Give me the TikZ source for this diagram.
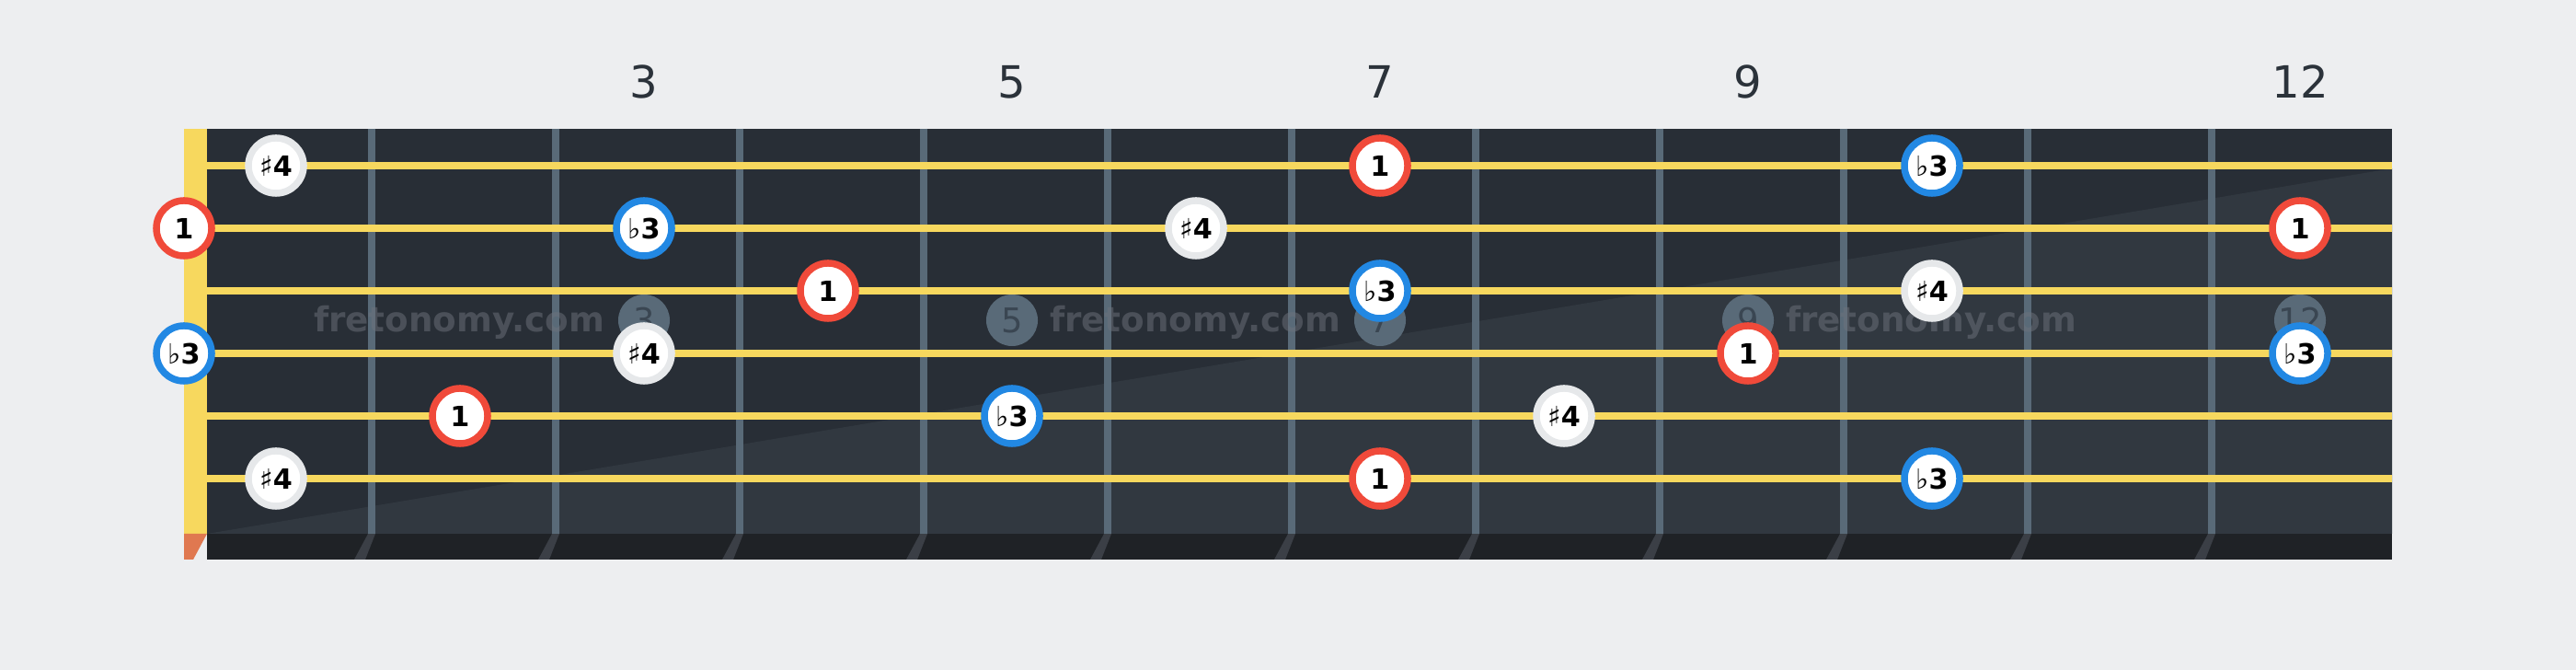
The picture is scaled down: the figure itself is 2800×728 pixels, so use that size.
\documentclass[tikz,border=0pt]{standalone}
\usepackage{fontspec}
\usepackage{tikz}
\usetikzlibrary{shapes.geometric}
\newfontfamily\notefont{DejaVu Sans}

\definecolor{bgcolor}{HTML}{EDEEF0}
\definecolor{boarddark}{HTML}{282E36}
\definecolor{boardlight}{HTML}{313840}
\definecolor{boardedge}{HTML}{1F2226}
\definecolor{shadowgray}{HTML}{3B3F46}
\definecolor{nutyellow}{HTML}{F7D85E}
\definecolor{nutorange}{HTML}{E07850}
\definecolor{fretgray}{HTML}{596A78}
\definecolor{markertext}{HTML}{3A4652}
\definecolor{rootred}{HTML}{F04A3A}
\definecolor{thirdblue}{HTML}{2288E3}
\definecolor{sharpgray}{HTML}{E6E8EA}
\definecolor{labelgray}{HTML}{2B323A}
\definecolor{markgray}{HTML}{6E737C}

\tikzstyle{note} = [circle, minimum size=0.6cm, inner sep=0pt, line width=0.075cm, fill=white, text=black, font={\notefont\fontsize{8.6}{10}\selectfont\bfseries}]
\tikzstyle{rootnote} = [note, draw=rootred]
\tikzstyle{thirdnote} = [note, draw=thirdblue]
\tikzstyle{sharpnote} = [note, draw=sharpgray]
\tikzstyle{fretnum} = [text=labelgray, font={\notefont\fontsize{13.7}{16}\selectfont}]
\tikzstyle{marker} = [circle, minimum size=0.56cm, inner sep=0pt, fill=fretgray, text=markertext, font={\notefont\fontsize{10.5}{12}\selectfont}]
\tikzstyle{watermark} = [text=markgray, text opacity=0.5, font={\notefont\fontsize{10.6}{12}\selectfont\bfseries}]
\tikzstyle{fret} = [fretgray, line width=0.08cm]
\tikzstyle{string} = [nutyellow, line width=0.08cm]
\tikzstyle{shadow} = [fill=shadowgray]

\newcommand{\shp}{{\mdseries ♯}}
\newcommand{\flt}{{\mdseries ♭}}

\begin{document}
\begin{tikzpicture}[x=0.01cm, y=-0.01cm]
    \fill[bgcolor] (0,0) rectangle (2800,728);
    \useasboundingbox (0,0) rectangle (2800,728);

    % board
    \fill[boarddark] (225,140) rectangle (2600,580);
    \fill[boardlight] (225,580) -- (2600,183) -- (2600,580) -- cycle;
    \fill[boardedge] (225,580) rectangle (2600,608);
    \fill[nutyellow] (200,140) rectangle (225,580);
    \fill[nutorange] (200,580) -- (225,580) -- (210,608) -- (200,608) -- cycle;

    % fret shadows
    \fill[shadow] (400,580) -- (408,580) -- (397,608) -- (385,608) -- cycle;
    \fill[shadow] (600,580) -- (608,580) -- (597,608) -- (585,608) -- cycle;
    \fill[shadow] (800,580) -- (808,580) -- (797,608) -- (785,608) -- cycle;
    \fill[shadow] (1000,580) -- (1008,580) -- (997,608) -- (985,608) -- cycle;
    \fill[shadow] (1200,580) -- (1208,580) -- (1197,608) -- (1185,608) -- cycle;
    \fill[shadow] (1400,580) -- (1408,580) -- (1397,608) -- (1385,608) -- cycle;
    \fill[shadow] (1600,580) -- (1608,580) -- (1597,608) -- (1585,608) -- cycle;
    \fill[shadow] (1800,580) -- (1808,580) -- (1797,608) -- (1785,608) -- cycle;
    \fill[shadow] (2000,580) -- (2008,580) -- (1997,608) -- (1985,608) -- cycle;
    \fill[shadow] (2200,580) -- (2208,580) -- (2197,608) -- (2185,608) -- cycle;
    \fill[shadow] (2400,580) -- (2408,580) -- (2397,608) -- (2385,608) -- cycle;

    % frets
    \draw[fret] (404,140) -- (404,580);
    \draw[fret] (604,140) -- (604,580);
    \draw[fret] (804,140) -- (804,580);
    \draw[fret] (1004,140) -- (1004,580);
    \draw[fret] (1204,140) -- (1204,580);
    \draw[fret] (1404,140) -- (1404,580);
    \draw[fret] (1604,140) -- (1604,580);
    \draw[fret] (1804,140) -- (1804,580);
    \draw[fret] (2004,140) -- (2004,580);
    \draw[fret] (2204,140) -- (2204,580);
    \draw[fret] (2404,140) -- (2404,580);

    % inlay markers
    \node (marker3) [marker] at (700,348) {3};
    \node (marker5) [marker] at (1100,348) {5};
    \node (marker7) [marker] at (1500,348) {7};
    \node (marker9) [marker] at (1900,348) {9};
    \node (marker12) [marker] at (2500,348) {12};

    \node (watermark1) [watermark] at (499,350) {fretonomy.com};
    \node (watermark2) [watermark] at (1299,350) {fretonomy.com};
    \node (watermark3) [watermark] at (2099,350) {fretonomy.com};

    % strings
    \draw[string] (225,180) -- (2600,180);
    \draw[string] (225,248) -- (2600,248);
    \draw[string] (225,316) -- (2600,316);
    \draw[string] (225,384) -- (2600,384);
    \draw[string] (225,452) -- (2600,452);
    \draw[string] (225,520) -- (2600,520);

    % fret numbers
    \node (fretnum3) [fretnum] at (700,89) {3};
    \node (fretnum5) [fretnum] at (1100,89) {5};
    \node (fretnum7) [fretnum] at (1500,89) {7};
    \node (fretnum9) [fretnum] at (1900,89) {9};
    \node (fretnum12) [fretnum] at (2500,89) {12};

    % notes
    \node (str1_fret1) [sharpnote] at (300,180) {\shp4};
    \node (str1_fret7) [rootnote] at (1500,180) {1};
    \node (str1_fret10) [thirdnote] at (2100,180) {\flt3};

    \node (str2_open) [rootnote] at (200,248) {1};
    \node (str2_fret3) [thirdnote] at (700,248) {\flt3};
    \node (str2_fret6) [sharpnote] at (1300,248) {\shp4};
    \node (str2_fret12) [rootnote] at (2500,248) {1};

    \node (str3_fret4) [rootnote] at (900,316) {1};
    \node (str3_fret7) [thirdnote] at (1500,316) {\flt3};
    \node (str3_fret10) [sharpnote] at (2100,316) {\shp4};

    \node (str4_open) [thirdnote] at (200,384) {\flt3};
    \node (str4_fret3) [sharpnote] at (700,384) {\shp4};
    \node (str4_fret9) [rootnote] at (1900,384) {1};
    \node (str4_fret12) [thirdnote] at (2500,384) {\flt3};

    \node (str5_fret2) [rootnote] at (500,452) {1};
    \node (str5_fret5) [thirdnote] at (1100,452) {\flt3};
    \node (str5_fret8) [sharpnote] at (1700,452) {\shp4};

    \node (str6_fret1) [sharpnote] at (300,520) {\shp4};
    \node (str6_fret7) [rootnote] at (1500,520) {1};
    \node (str6_fret10) [thirdnote] at (2100,520) {\flt3};
\end{tikzpicture}
\end{document}
